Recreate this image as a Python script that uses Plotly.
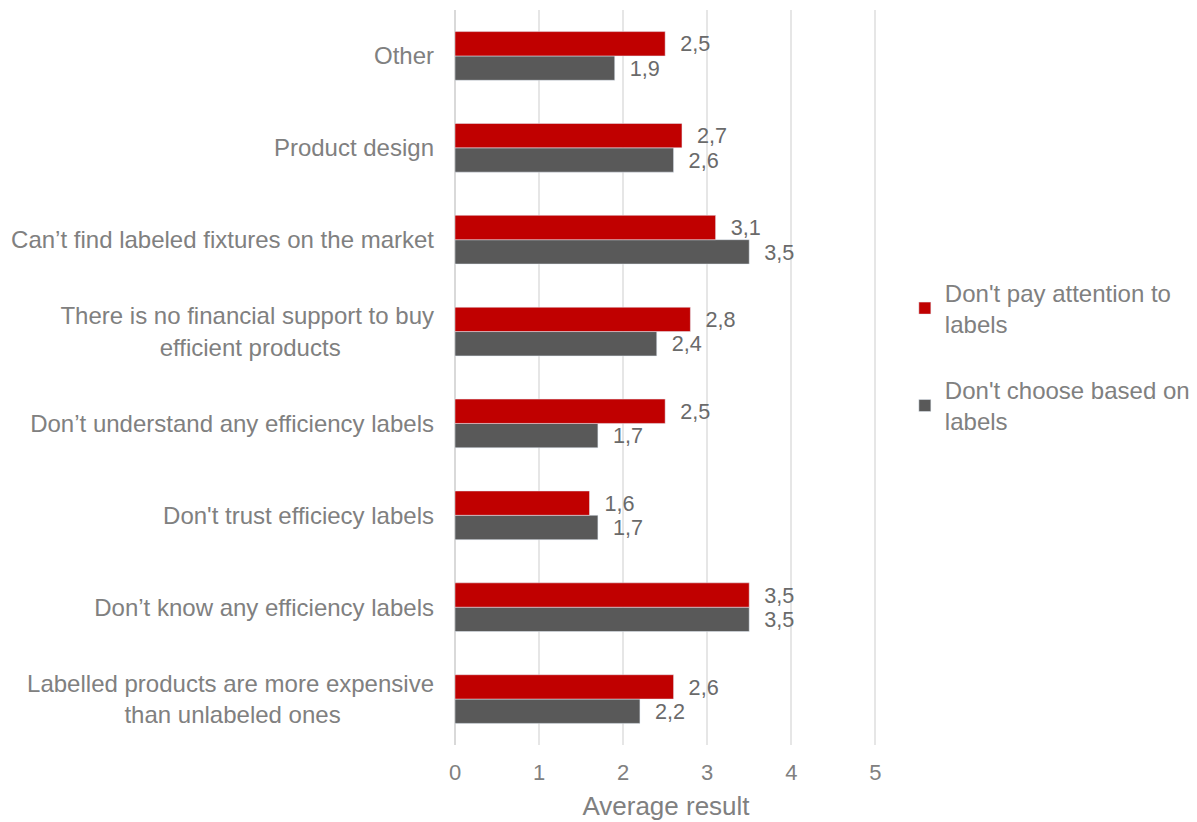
import plotly.graph_objects as go

NB = "\u00a0"
categories = [
    "Labelled products are more expensive<br>than unlabeled ones",
    "Don’t know any efficiency labels",
    "Don't trust efficiecy labels",
    "Don’t understand any efficiency labels",
    "There is no financial support to buy<br>efficient products",
    "Can’t find labeled fixtures on the market",
    "Product design",
    "Other",
]
# centre second lines of wrapped labels (plotly right-aligns tick label lines)
cat_display = [
    categories[0] + NB * 14,
    categories[1], categories[2], categories[3],
    categories[4] + NB * 14,
    categories[5], categories[6], categories[7],
]
pay_attention = [2.6, 3.5, 1.6, 2.5, 2.8, 3.1, 2.7, 2.5]
choose_based = [2.2, 3.5, 1.7, 1.7, 2.4, 3.5, 2.6, 1.9]
series_names = ["Don't pay attention to<br>labels", "Don't choose based on<br>labels"]
x_ticks = [0, 1, 2, 3, 4, 5]
x_title = "Average result"

def fmt(v):
    return NB * 2 + f"{v:.1f}".replace(".", ",")

FONT = "Liberation Sans, Arial, sans-serif"
fig = go.Figure()
fig.add_trace(go.Bar(
    y=cat_display, x=choose_based, orientation="h", name=series_names[1],
    marker=dict(color="#595959"), text=[fmt(v) for v in choose_based],
    textposition="outside", textfont=dict(color="#6a6a6a", size=24),
    cliponaxis=False, legendgroup="b", legendrank=2,
))
fig.add_trace(go.Bar(
    y=cat_display, x=pay_attention, orientation="h", name=series_names[0],
    marker=dict(color="#C00000"), text=[fmt(v) for v in pay_attention],
    textposition="outside", textfont=dict(color="#6a6a6a", size=24),
    cliponaxis=False, legendgroup="a", legendrank=1,
))

fig.update_layout(
    width=1197, height=822,
    margin=dict(l=447, r=328, t=2, b=85, autoexpand=False),
    barmode="group", bargap=0.47, bargroupgap=0,
    plot_bgcolor="white", paper_bgcolor="white",
    font=dict(family=FONT, size=24, color="#808080"),
    legend=dict(x=1.066, y=0.528, xanchor="left", yanchor="middle",
                font=dict(size=24, color="#808080"), itemwidth=30,
                tracegroupgap=32, traceorder="grouped"),
)
fig.update_xaxes(
    range=[0, 5.02], tickvals=x_ticks, ticktext=[str(t) for t in x_ticks],
    showgrid=True, gridcolor="#e6e6e6", gridwidth=1.5, zeroline=True,
    zerolinecolor="#d9d9d9", zerolinewidth=1.5,
    title=dict(text=x_title, font=dict(size=26, color="#808080"), standoff=12),
    tickfont=dict(size=22, color="#808080"), ticks="", ticklabelstandoff=12,
)
fig.update_yaxes(
    categoryorder="array", categoryarray=cat_display,
    tickfont=dict(size=24, color="#808080"), ticks="", showgrid=False,
    ticklabelstandoff=20,
)
fig.write_html("out.html")
